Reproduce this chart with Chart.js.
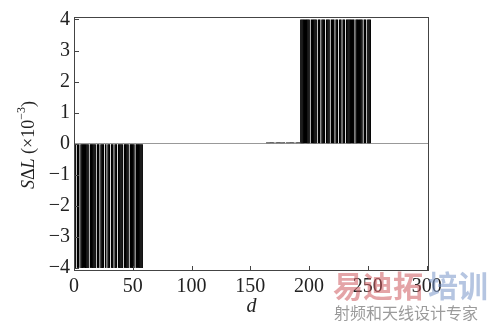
<!DOCTYPE html>
<html>
<head>
<meta charset="utf-8">
<script src="https://cdn.jsdelivr.net/npm/chart.js@4/dist/chart.umd.min.js"></script>
<style>
  body { margin: 0; background: #fff; }
  canvas { display: block; }
</style>
</head>
<body>
<canvas id="chart" width="489" height="323"></canvas>
<script>
// d positions of the bars, per block
const negD = [0, 1, 3, 4, 6, 7, 8, 9, 10, 11, 12, 14, 15, 16, 17, 18, 20, 21, 23, 24, 25, 27, 29, 30,
  32, 33, 35, 36, 38, 39, 40, 41, 43, 44, 45, 46, 48, 49, 50, 51, 53, 54, 55, 56, 57, 58];
const nearD = [164, 165, 166, 167, 168, 169, 170, 172, 173, 174, 175, 176, 177, 178, 179, 181, 182,
  183, 184, 185, 186, 187, 189, 190, 191, 192];
const posD = [193, 194, 195, 196, 197, 198, 199, 200, 202, 203, 204, 205, 206, 208, 209, 211, 212, 213,
  215, 216, 217, 219, 220, 221, 223, 224, 226, 227, 229, 230, 232, 233, 234, 235, 236, 237, 238, 240,
  241, 242, 243, 244, 245, 247, 248, 250, 251, 252];

// S-delta-L level of each block (x10^-3)
const negLevel = -4;
const nearLevel = 0.05;
const posLevel = 4;

const xTicks = [0, 50, 100, 150, 200, 250, 300];
const yTicks = [-4, -3, -2, -1, 0, 1, 2, 3, 4];

const serif = "'Liberation Serif', 'DejaVu Serif', serif";

const toPoints = (ds, level) => ds.map(d => ({ x: d, y: level }));

const bar = (data, color) => ({
  data: data,
  backgroundColor: color,
  borderWidth: 0,
  grouped: false,
  barPercentage: 1.28,
  categoryPercentage: 1,
});

// box, inward ticks, axis titles and the watermark
const decor = {
  id: "decor",
  afterDraw(chart) {
    const { ctx, chartArea: a, scales } = chart;
    ctx.save();
    ctx.strokeStyle = "#444";
    ctx.lineWidth = 1;
    ctx.strokeRect(a.left + 0.5, a.top + 0.5, a.right - a.left - 1, a.bottom - a.top - 1);

    ctx.beginPath();
    xTicks.forEach(v => {
      const px = Math.round(scales.x.getPixelForValue(v)) + 0.5;
      ctx.moveTo(px, a.bottom);
      ctx.lineTo(px, a.bottom - 5);
    });
    yTicks.forEach(v => {
      const py = Math.round(scales.y.getPixelForValue(v)) + 0.5;
      ctx.moveTo(a.left, py);
      ctx.lineTo(a.left + 5, py);
    });
    ctx.stroke();

    // x title
    ctx.fillStyle = "#222";
    ctx.font = "italic 20px " + serif;
    ctx.textAlign = "center";
    ctx.textBaseline = "middle";
    ctx.fillText("d", (a.left + a.right) / 2, 307);

    // y title, mixed italic / upright
    ctx.translate(29, 145);
    ctx.rotate(-Math.PI / 2);
    const parts = [
      ["italic 18px " + serif, "S", 0],
      ["18px " + serif, "\u0394", 0],
      ["italic 18px " + serif, "L", 0],
      ["18px " + serif, " (\u00d710", 0],
      ["12px " + serif, "\u22123", -7],
      ["18px " + serif, ")", 0],
    ];
    let total = 0;
    parts.forEach(p => { ctx.font = p[0]; total += ctx.measureText(p[1]).width; });
    let x = -total / 2;
    ctx.textAlign = "left";
    parts.forEach(p => {
      ctx.font = p[0];
      ctx.fillText(p[1], x, p[2]);
      x += ctx.measureText(p[1]).width;
    });
    ctx.restore();

    // watermark
    ctx.save();
    ctx.textBaseline = "middle";
    ctx.textAlign = "left";
    ctx.font = "bold 30px 'Noto Sans CJK SC'";
    ctx.fillStyle = "rgba(205, 90, 95, 0.55)";
    ctx.fillText("易迪拓", 333, 286);
    ctx.fillStyle = "rgba(120, 150, 200, 0.55)";
    ctx.fillText("培训", 428, 286);
    ctx.font = "16px 'Noto Sans CJK SC'";
    ctx.fillStyle = "rgba(130, 130, 130, 0.8)";
    ctx.fillText("射频和天线设计专家", 334, 313);
    ctx.restore();
  },
};

new Chart(document.getElementById("chart"), {
  type: "bar",
  data: {
    datasets: [
      bar(toPoints(negD, negLevel), "#000"),
      bar(toPoints(nearD, nearLevel), "#555"),
      bar(toPoints(posD, posLevel), "#000"),
    ],
  },
  options: {
    responsive: false,
    devicePixelRatio: 1,
    animation: false,
    layout: { padding: { top: 17, right: 60, left: 0, bottom: 0 } },
    plugins: { legend: { display: false }, tooltip: { enabled: false } },
    scales: {
      x: {
        type: "linear",
        offset: false,
        min: 0,
        max: 302,
        afterFit: s => { s.height = 52; },
        afterBuildTicks: s => { s.ticks = xTicks.map(v => ({ value: v })); },
        grid: { display: false },
        border: { display: false },
        ticks: { color: "#222", font: { family: serif, size: 20 }, padding: -4, maxRotation: 0 },
      },
      y: {
        min: -4.1,
        max: 4.08,
        afterFit: s => { s.width = 74; },
        afterBuildTicks: s => { s.ticks = yTicks.map(v => ({ value: v })); },
        grid: {
          drawTicks: false,
          color: c => (c.tick && c.tick.value === 0 ? "#999" : "rgba(0,0,0,0)"),
        },
        border: { display: false },
        ticks: {
          color: "#222",
          font: { family: serif, size: 20 },
          padding: 4,
          callback: v => String(v).replace("-", "\u2212"),
        },
      },
    },
  },
  plugins: [decor],
});
</script>
</body>
</html>
